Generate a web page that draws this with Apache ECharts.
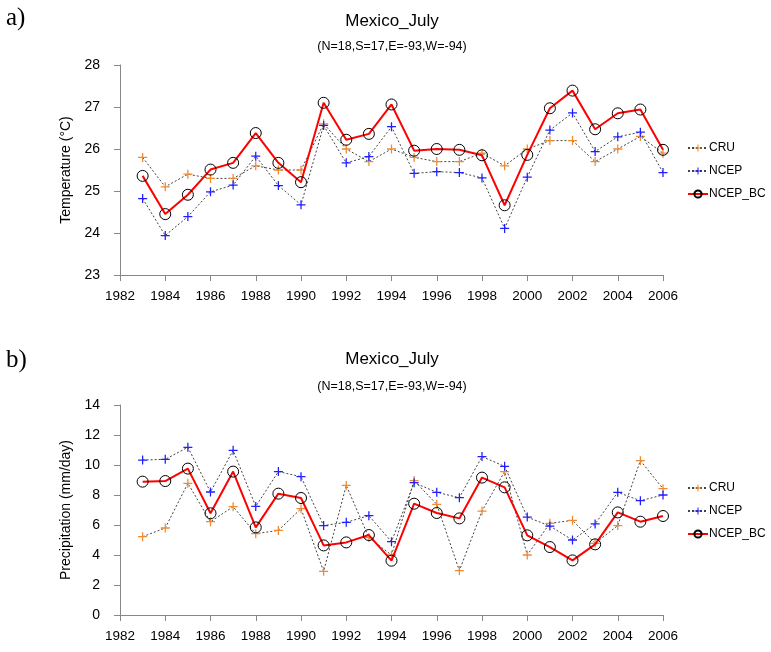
<!DOCTYPE html>
<html>
<head>
<meta charset="utf-8">
<script src="https://cdn.jsdelivr.net/npm/echarts@6/dist/echarts.min.js"></script>
<style>
html,body{margin:0;padding:0;background:#fff;}
#chart{width:771px;height:652px;}
</style>
</head>
<body>
<div id="chart"></div>
<script>
const years = [1983,1984,1985,1986,1987,1988,1989,1990,1991,1992,1993,1994,1995,1996,1997,1998,1999,2000,2001,2002,2003,2004,2005,2006];
const xTicks = [1982,1984,1986,1988,1990,1992,1994,1996,1998,2000,2002,2004,2006];

const tempCRU  = [25.8,25.1,25.4,25.3,25.3,25.6,25.5,25.5,26.6,26.0,25.7,26.0,25.8,25.7,25.7,25.9,25.6,26.0,26.2,26.2,25.7,26.0,26.3,25.9];
const tempNCEP = [24.82,23.94,24.39,24.98,25.14,25.83,25.13,24.67,26.56,25.67,25.82,26.53,25.42,25.46,25.44,25.31,24.11,25.33,26.45,26.86,25.94,26.29,26.40,25.44];
const tempBC   = [25.36,24.45,24.91,25.51,25.67,26.38,25.67,25.21,27.10,26.22,26.36,27.06,25.96,26.00,25.98,25.85,24.66,25.86,26.97,27.39,26.47,26.85,26.94,25.98];

const precCRU  = [5.22,5.80,8.78,6.22,7.22,5.42,5.64,7.09,2.91,8.64,5.16,4.00,8.96,7.38,2.96,6.93,9.56,4.00,6.11,6.31,4.78,5.96,10.29,8.42];
const precNCEP = [10.33,10.38,11.18,8.20,10.98,7.24,9.56,9.22,5.96,6.18,6.62,4.89,8.82,8.18,7.82,10.56,9.91,6.53,5.93,5.00,6.07,8.18,7.62,8.00];
const precBC   = [8.89,8.93,9.76,6.78,9.56,5.84,8.09,7.80,4.64,4.84,5.33,3.62,7.42,6.80,6.44,9.16,8.51,5.31,4.53,3.64,4.71,6.84,6.22,6.60];

const seriesNames = ['CRU','NCEP','NCEP_BC'];
const panelLabels = ['a)','b)'];
const titleText = 'Mexico_July';
const subText = '(N=18,S=17,E=-93,W=-94)';
const yNames = ['Temperature (\u00B0C)','Precipitation (mm/day)'];

const PLUS = 'path://M4.3,0H5.7V4.3H10V5.7H5.7V10H4.3V5.7H0V4.3H4.3Z';
const FONT = 'Arial, "Liberation Sans", sans-serif';

function pairs(vals){ return years.map((y,i)=>[y, vals[i]]); }

function makeSeries(idx, cru, ncep, bc){
  return [
    {name: seriesNames[0], type:'line', xAxisIndex: idx, yAxisIndex: idx, data: pairs(cru),
     symbol: PLUS, symbolSize: 9, itemStyle:{color:'#EE8A33'},
     lineStyle:{color:'#444', width:1, type:[2,2]}, z: 2, animation:false},
    {name: seriesNames[1], type:'line', xAxisIndex: idx, yAxisIndex: idx, data: pairs(ncep),
     symbol: PLUS, symbolSize: 9, itemStyle:{color:'#1F1FFF'},
     lineStyle:{color:'#444', width:1, type:[2,2]}, z: 3, animation:false},
    {name: seriesNames[2], type:'line', xAxisIndex: idx, yAxisIndex: idx, data: pairs(bc),
     symbol:'circle', symbolSize: 11,
     itemStyle:{color:'rgba(0,0,0,0)', borderColor:'#000', borderWidth:1},
     lineStyle:{color:'#FF0000', width:2}, z: 4, animation:false}
  ];
}

function xAxis(idx){
  return {type:'value', gridIndex: idx, min: xTicks[0], max: xTicks[xTicks.length-1], interval: 2,
    axisLine:{show:true, lineStyle:{color:'#888', width:1}},
    axisTick:{show:true, inside:false, length:6, lineStyle:{color:'#888'}},
    splitLine:{show:false},
    axisLabel:{margin:14, color:'#000', fontSize:13.5, fontFamily:FONT, formatter: v => String(v)}};
}
function yAxis(idx, min, max, interval){
  return {type:'value', gridIndex: idx, min, max, interval,
    name: yNames[idx], nameLocation:'middle', nameRotate: 90, nameGap: 45,
    nameTextStyle:{color:'#000', fontSize:14, fontFamily:FONT},
    axisLine:{show:true, lineStyle:{color:'#888', width:1}},
    axisTick:{show:true, inside:false, length:6, lineStyle:{color:'#888'}},
    splitLine:{show:false},
    axisLabel:{margin:20, color:'#000', fontSize:14, fontFamily:FONT}};
}
function legend(top){
  return {orient:'vertical', left: 682, top: top, itemWidth: 20, itemHeight: 9, itemGap: 11,
    data: seriesNames, textStyle:{color:'#000', fontSize:12, fontFamily:FONT, padding:[0,0,0,-4]},
    selectedMode:false};
}
function txt(text, x, y, font, align){
  return {type:'text', style:{text, x, y, fill:'#000', font, textAlign: align || 'center', textVerticalAlign:'middle'}};
}

const chart = echarts.init(document.getElementById('chart'), null, {renderer:'canvas'});
chart.setOption({
  animation:false,
  backgroundColor:'#fff',
  grid:[
    {left:120, top:65, width:543, height:210},
    {left:120, top:405, width:543, height:210}
  ],
  xAxis:[xAxis(0), xAxis(1)],
  yAxis:[yAxis(0, 23, 28, 1), yAxis(1, 0, 14, 2)],
  legend:[legend(137), legend(477)],
  series: [...makeSeries(0, tempCRU, tempNCEP, tempBC), ...makeSeries(1, precCRU, precNCEP, precBC)],
  graphic:[
    txt(panelLabels[0], 6, 18, '25px "Liberation Serif", "DejaVu Serif", serif', 'left'),
    txt(panelLabels[1], 6, 360, '25px "Liberation Serif", "DejaVu Serif", serif', 'left'),
    txt(titleText, 392, 21, '17px ' + FONT),
    txt(subText, 392, 47, '12.5px ' + FONT),
    txt(titleText, 392, 359, '17px ' + FONT),
    txt(subText, 392, 387, '12.5px ' + FONT)
  ]
});
</script>
</body>
</html>
